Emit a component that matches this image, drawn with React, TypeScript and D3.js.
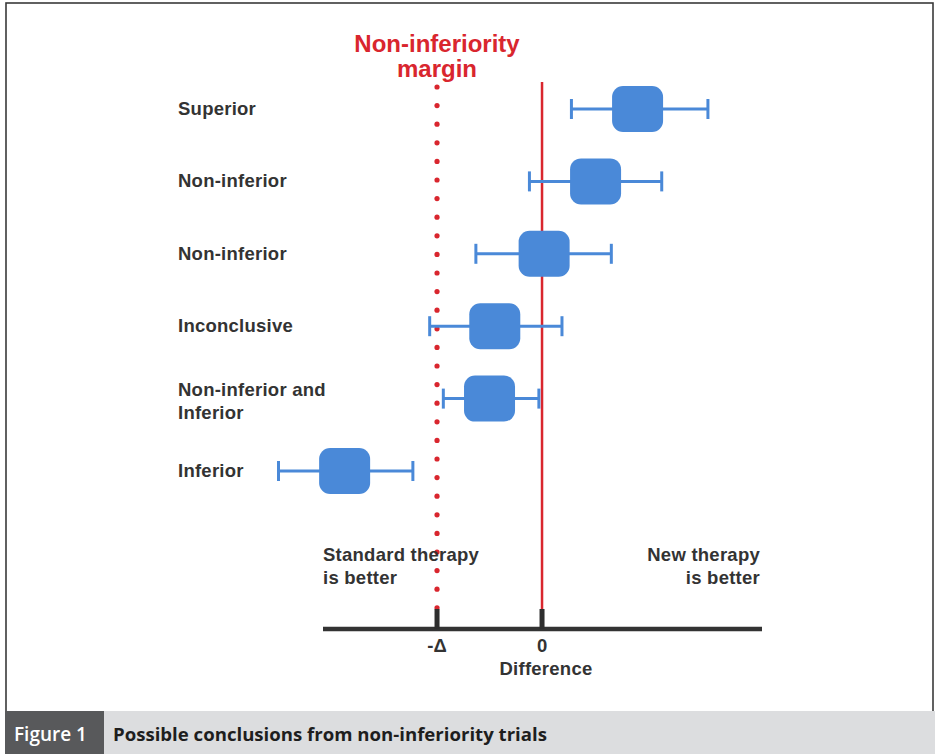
import React from "react";
import * as d3 from "d3";

const categories = ["Superior", "Non-inferior", "Non-inferior (2)", "Inconclusive", "Non-inferior and Inferior", "Inferior"];
const labelLines = [["Superior"], ["Non-inferior"], ["Non-inferior"], ["Inconclusive"], ["Non-inferior and", "Inferior"], ["Inferior"]];
const pointEst = [0.91, 0.51, 0.02, -0.45, -0.5, -1.88];
const lowerCI = [0.28, -0.12, -0.63, -1.07, -0.94, -2.51];
const upperCI = [1.58, 1.14, 0.66, 0.19, -0.03, -1.23];
const margin = -1;
const tickValues = [-1, 0];
const tickLabels = ["-\u0394", "0"];

const W = 935;
const H = 754;

export default function App() {
  const x = d3.scaleLinear().domain([-2.086, 2.095]).range([323, 762]);
  const y = d3.scalePoint<string>().domain(categories).range([109, 471]);
  const boxW = 51;
  const boxH = 46;
  const axisY = 629;
  const lineTop = 82;
  const blue = "#4a89d8";
  const red = "#d9262e";
  const font = "'Liberation Sans', Arial, Helvetica, sans-serif";
  const textCol = "#333333";
  const dots = d3.range(87, 608, 18.6);
  const capFont = "'Open Sans', 'Noto Sans', sans-serif";
  const fs = 18.5;
  const ls = 0.25;

  return (
    <svg width={W} height={H} style={{ position: "absolute", left: 0, top: 0 }} fontFamily={font}>
      <rect x={0} y={0} width={W} height={H} fill="#ffffff" />
      {/* frame */}
      <rect x={6} y={3} width={927} height={760} fill="none" stroke="#3a3a3a" strokeWidth={1.6} />

      {/* margin title */}
      <text x={x(margin)} y={52} textAnchor="middle" fill={red} fontWeight="bold" fontSize={24}>Non-inferiority</text>
      <text x={x(margin)} y={77} textAnchor="middle" fill={red} fontWeight="bold" fontSize={24}>margin</text>

      {/* dotted margin line */}
      {dots.map((d, i) => (
        <circle key={i} cx={x(margin)} cy={d} r={2.6} fill={red} />
      ))}
      {/* zero line */}
      <line x1={x(0)} x2={x(0)} y1={lineTop} y2={610} stroke={red} strokeWidth={2.5} />

      {/* rows */}
      {categories.map((c, i) => {
        const cy = y(c)!;
        const lines = labelLines[i];
        return (
          <g key={c}>
            {lines.map((l, j) => (
              <text key={j} x={178} y={cy + 6 + (j - (lines.length - 1) / 2) * 22.5 + (lines.length > 1 ? 3 : 0)} fill={textCol} fontWeight="bold" fontSize={fs} letterSpacing={ls}>{l}</text>
            ))}
            <line x1={x(lowerCI[i])} x2={x(upperCI[i])} y1={cy} y2={cy} stroke={blue} strokeWidth={3} />
            <line x1={x(lowerCI[i])} x2={x(lowerCI[i])} y1={cy - 10} y2={cy + 10} stroke={blue} strokeWidth={3} />
            <line x1={x(upperCI[i])} x2={x(upperCI[i])} y1={cy - 10} y2={cy + 10} stroke={blue} strokeWidth={3} />
            <rect x={x(pointEst[i]) - boxW / 2} y={cy - boxH / 2} width={boxW} height={boxH} rx={11} ry={11} fill={blue} />
          </g>
        );
      })}

      {/* region labels */}
      <text x={323} y={561} fill={textCol} fontWeight="bold" fontSize={fs} letterSpacing={ls}>Standard therapy</text>
      <text x={323} y={584} fill={textCol} fontWeight="bold" fontSize={fs} letterSpacing={ls}>is better</text>
      <text x={760} y={561} textAnchor="end" fill={textCol} fontWeight="bold" fontSize={fs} letterSpacing={ls}>New therapy</text>
      <text x={760} y={584} textAnchor="end" fill={textCol} fontWeight="bold" fontSize={fs} letterSpacing={ls}>is better</text>

      {/* axis */}
      <line x1={x.range()[0]} x2={x.range()[1]} y1={axisY} y2={axisY} stroke="#333333" strokeWidth={4.5} />
      {tickValues.map((t, i) => (
        <g key={t}>
          <rect x={x(t) - 2.5} y={609} width={5} height={20} fill="#2e2e2e" />
          <text x={x(t)} y={652} textAnchor="middle" fill={textCol} fontWeight="bold" fontSize={fs}>{tickLabels[i]}</text>
        </g>
      ))}
      <text x={546} y={675} textAnchor="middle" fill={textCol} fontWeight="bold" fontSize={fs} letterSpacing={ls}>Difference</text>

      {/* caption */}
      <rect x={104} y={711} width={W - 104} height={H - 711} fill="#dcdddf" />
      <rect x={5} y={711} width={99} height={H - 711} fill="#58595b" />
      <text x={14} y={741} fill="#ffffff" fontSize={19} fontFamily={capFont} fontWeight={600}>Figure 1</text>
      <text x={113} y={741} fill="#1e1e1e" fontSize={18.6} fontFamily={capFont} fontWeight={700}>Possible conclusions from non-inferiority trials</text>
    </svg>
  );
}
